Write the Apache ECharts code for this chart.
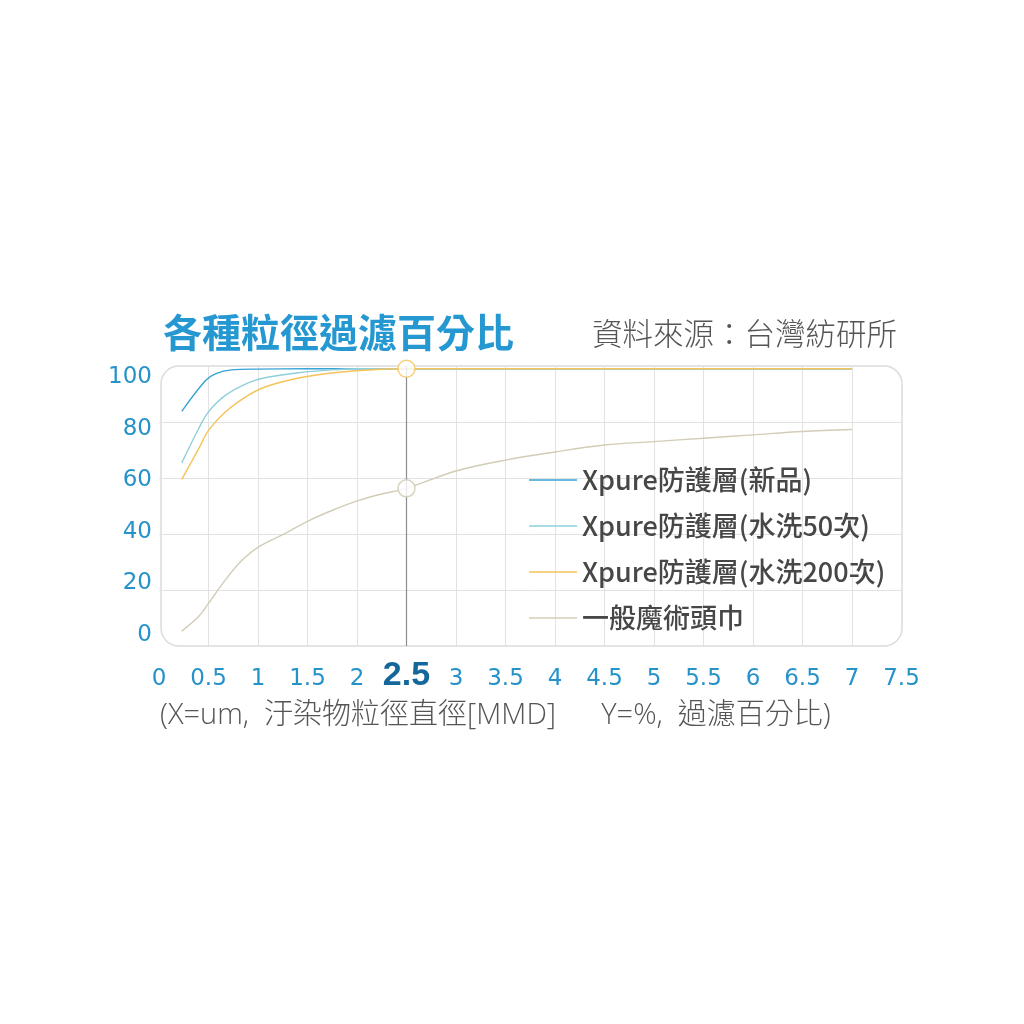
<!DOCTYPE html>
<html>
<head>
    <meta charset="utf-8">
    <title>各種粒徑過濾百分比</title>
    <script src="https://cdn.jsdelivr.net/npm/echarts@6/dist/echarts.min.js"></script>
    <style>
        html, body { margin: 0; padding: 0; background: #fff; }
        #chart1 { width: 1024px; height: 1024px; }
    </style>
</head>
<body>
<div id="chart1"></div>
<script type="text/javascript">
    // 數據
    var seriesNames = ['Xpure防護層(新品)', 'Xpure防護層(水洗50次)', 'Xpure防護層(水洗200次)', '一般魔術頭巾'];
    var seriesColors = ['#36a3d6', '#8fcfdc', '#f4c35a', '#d3ccb6'];

    var xNew = [0.23, 0.47, 0.57, 0.73, 1.0, 1.5, 2.0, 7.0];
    var yNew = [83.8, 94.8, 97.2, 98.6, 98.9, 99, 99, 99];

    var xWash50 = [0.23, 0.40, 0.50, 0.67, 0.90, 1.07, 1.41, 1.74, 2.0, 7.0];
    var yWash50 = [65.4, 77.6, 83.6, 89.5, 94.0, 95.8, 97.6, 98.6, 99, 99];

    var xWash200 = [0.23, 0.40, 0.50, 0.67, 0.90, 1.07, 1.41, 1.74, 2.08, 2.5, 7.0];
    var yWash200 = [59.5, 70.4, 77.0, 83.6, 89.5, 92.5, 95.7, 97.5, 98.5, 99, 99];

    var xNormal = [0.23, 0.40, 0.50, 0.67, 0.84, 1.01, 1.24, 1.51, 1.74, 2.01, 2.25, 2.5, 3.0, 3.5, 4.0, 4.5, 5.0, 5.5, 6.0, 6.5, 7.0];
    var yNormal = [5.3, 10.5, 15.2, 23.6, 30.7, 35.5, 39.6, 44.7, 48.3, 51.9, 54.3, 56.3, 62.5, 66.4, 69.3, 71.8, 73.0, 74.2, 75.4, 76.6, 77.3];

    var markX = 2.5;
    var markY = [99, 56.3];
    var yTickLabels = [0, 20, 40, 60, 80, 100];

    function pairs(xs, ys) {
        return xs.map(function (x, i) { return [x, ys[i]]; });
    }

    var myChart1 = echarts.init(document.getElementById('chart1'));

    var lineData = [pairs(xNew, yNew), pairs(xWash50, yWash50), pairs(xWash200, yWash200), pairs(xNormal, yNormal)];
    var series = lineData.map(function (d, i) {
        return {
            name: seriesNames[i],
            type: 'line',
            data: d,
            smooth: 0.35,
            showSymbol: false,
            color: seriesColors[i],
            lineStyle: { width: 1.4, color: seriesColors[i] }
        };
    });
    // 2.5 的垂直線
    series[3].markLine = {
        silent: true,
        symbol: 'none',
        label: { show: false },
        lineStyle: { color: '#8c8c8c', width: 1.2, type: 'solid' },
        data: [{ xAxis: markX }]
    };
    // 標記圓點
    series.push({
        type: 'scatter',
        data: [[markX, markY[0]]],
        symbolSize: 17,
        z: 10,
        itemStyle: { color: '#fff', borderColor: seriesColors[2], borderWidth: 1.5 }
    });
    series.push({
        type: 'scatter',
        data: [[markX, markY[1]]],
        symbolSize: 17,
        z: 10,
        itemStyle: { color: '#fff', borderColor: '#cfc8b0', borderWidth: 1.5 }
    });

    var numFont = 'DejaVu Sans';
    var cjkFont = 'Noto Sans CJK TC';

    myChart1.setOption({
        animation: false,
        backgroundColor: '#fff',
        title: [
            {
                text: '各種粒徑過濾百分比',
                left: 163, top: 313, padding: 0,
                textStyle: { fontSize: 39, fontWeight: 'bold', color: '#2598d2', fontFamily: cjkFont }
            },
            {
                text: '資料來源：台灣紡研所',
                right: 127, top: 318, padding: 0,
                textStyle: { fontSize: 30.5, fontWeight: 300, color: '#555', fontFamily: cjkFont }
            },
            {
                text: '(X=um,  汙染物粒徑直徑[MMD]      Y=%,  過濾百分比)',
                left: 160, top: 701, padding: 0,
                textStyle: { fontSize: 29, fontWeight: 300, color: '#555', fontFamily: '"Open Sans", "Noto Sans CJK TC"' }
            }
        ],
        legend: {
            data: seriesNames,
            orient: 'vertical',
            left: 524, top: 461,
            itemWidth: 48, itemHeight: 1.5,
            itemGap: 18,
            icon: 'rect',
            textStyle: { fontSize: 27, lineHeight: 28, fontWeight: 500, color: '#474747', fontFamily: cjkFont }
        },
        grid: { left: 159, right: 122.5, top: 366, bottom: 378 },
        graphic: [{
            type: 'rect',
            z: -1,
            shape: { x: 161, y: 366, width: 741, height: 280, r: 18 },
            style: { fill: 'none', stroke: '#dcdcdc', lineWidth: 1.5 }
        }],
        xAxis: {
            type: 'value',
            min: 0, max: 7.5, interval: 0.5,
            axisLine: { show: false },
            axisTick: { show: false },
            splitLine: { show: true, showMinLine: false, showMaxLine: false, lineStyle: { color: '#e2e2e2', width: 1 } },
            axisLabel: {
                margin: 19.5,
                showMinLabel: true, showMaxLabel: true,
                formatter: function (v) {
                    return v === markX ? '{b|' + v + '}' : '{a|' + v + '}';
                },
                rich: {
                    a: { fontSize: 23, lineHeight: 28, color: '#2592c9', fontFamily: numFont },
                    b: { fontSize: 34, lineHeight: 20, fontWeight: 'bold', color: '#14679a', fontFamily: 'Liberation Sans' }
                }
            }
        },
        yAxis: [
            {
                type: 'value',
                min: 0, max: 100, interval: 20,
                axisLine: { show: false },
                axisTick: { show: false },
                axisLabel: { show: false },
                splitLine: { show: true, showMinLine: false, showMaxLine: false, lineStyle: { color: '#e2e2e2', width: 1 } }
            },
            {
                // 刻度文字（原圖與格線不完全對齊）
                type: 'value',
                position: 'left',
                min: -4.26, max: 104.26,
                axisLine: { show: false },
                axisTick: { show: false },
                splitLine: { show: false },
                axisLabel: {
                    customValues: yTickLabels,
                    margin: 7,
                    fontSize: 23,
                    color: '#2592c9',
                    fontFamily: numFont
                }
            }
        ],
        series: series
    });
</script>
</body>
</html>
